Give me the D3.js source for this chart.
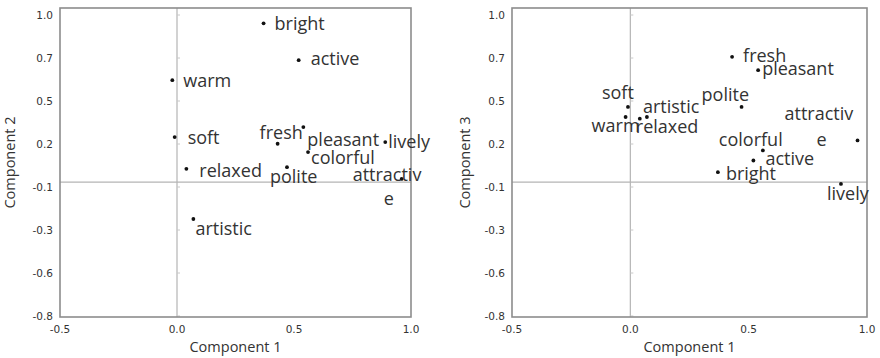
<!DOCTYPE html>
<html>
<head>
<meta charset="UTF-8">
<title></title>
<style>
  body { margin: 0; background: #fff; }
</style>
</head>
<body>
<div id="svg"></div>
<script src="https://d3js.org/d3.v7.min.js"></script>
<script>
// loadings
var words = ["bright", "active", "warm", "soft", "fresh", "pleasant", "lively", "colorful", "polite", "relaxed", "attractive", "artistic"];
var comp1 = [0.37, 0.52, -0.02, -0.01, 0.43, 0.54, 0.89, 0.56, 0.47, 0.04, 0.96, 0.07];
var comp2 = [0.95, 0.73, 0.61, 0.27, 0.23, 0.33, 0.24, 0.18, 0.09, 0.08, 0.02, -0.22];
var comp3 = [0.06, 0.13, 0.39, 0.45, 0.75, 0.67, -0.01, 0.19, 0.45, 0.38, 0.25, 0.39];

var xTickLabels = ["-0.5", "0.0", "0.5", "1.0"];
var yTickLabels = ["-0.8", "-0.6", "-0.3", "-0.1", "0.2", "0.5", "0.7", "1.0"];

// where each label sits relative to its dot (px), second pair = wrapped line
var nudge2 = {
    bright: [11, 7], active: [12, 5], warm: [11, 7], soft: [13, 7],
    fresh: [-18, -5], pleasant: [4, 19], lively: [3, 6], colorful: [3, 12],
    polite: [-17, 16], relaxed: [13, 8], attractive: [-49, 2, -18, 26], artistic: [2, 16]
};
var nudge3 = {
    bright: [8, 8], active: [12, 5], warm: [-34, 15], soft: [-26, -8],
    fresh: [11, 5], pleasant: [4, 5], lively: [-14, 16], colorful: [-44, -4],
    polite: [-40, -6], relaxed: [-4, 14], attractive: [-73, -20, -41, 6], artistic: [-4, -4]
};

var width = 880, height = 358;
var plotTop = 8, plotBottom = 317;

var svg = d3.select("#svg")
    .append("svg")
    .attr("width", width)
    .attr("height", height);

function drawPanel(left, right, yValues, yTitle, nudge, titleX) {
    var x = d3.scaleLinear().domain([-0.5, 1.0]).range([left, right]);
    var y = d3.scaleLinear().domain([-0.8, 1.0]).range([316, 15]);
    var yTicks = d3.range(yTickLabels.length).map(function(i) {
        return -0.8 + i * 1.8 / (yTickLabels.length - 1);
    });

    var g = svg.append("g");

    // zero lines
    g.append("line")
        .attr("x1", x(0)).attr("x2", x(0))
        .attr("y1", plotTop).attr("y2", plotBottom)
        .attr("stroke", "#b4b4b4").attr("stroke-width", 1.2);
    g.append("line")
        .attr("x1", left).attr("x2", right)
        .attr("y1", y(0)).attr("y2", y(0))
        .attr("stroke", "#b4b4b4").attr("stroke-width", 1.2);

    // little ticks on the vertical zero line
    g.selectAll(".vt")
        .data(yTicks)
        .join("line")
        .attr("x1", x(0)).attr("x2", x(0) + 3)
        .attr("y1", d => y(d)).attr("y2", d => y(d))
        .attr("stroke", "#c8c8c8");

    // frame
    g.append("rect")
        .attr("x", left).attr("y", plotTop)
        .attr("width", right - left).attr("height", plotBottom - plotTop)
        .attr("fill", "none")
        .attr("stroke", "#8c8c8c")
        .attr("stroke-width", 1.6);

    // y tick labels
    g.selectAll(".yl")
        .data(yTicks)
        .join("text")
        .attr("x", left - 7)
        .attr("y", d => y(d) + 3.8)
        .attr("text-anchor", "end")
        .style("font-family", "'DejaVu Sans', sans-serif")
        .style("font-size", "10.5px")
        .attr("fill", "#333")
        .text((d, i) => yTickLabels[i]);

    // x tick labels
    g.selectAll(".xl")
        .data(xTickLabels)
        .join("text")
        .attr("x", d => x(+d))
        .attr("y", 333)
        .attr("text-anchor", "middle")
        .style("font-family", "'DejaVu Sans', sans-serif")
        .style("font-size", "10.5px")
        .attr("fill", "#333")
        .text(d => d);

    // axis titles
    g.append("text")
        .attr("x", (left + right) / 2)
        .attr("y", 352)
        .attr("text-anchor", "middle")
        .style("font-family", "'Open Sans', sans-serif")
        .style("font-size", "14.5px")
        .attr("fill", "#333")
        .text("Component 1");
    g.append("text")
        .attr("transform", "translate(" + titleX + "," + ((plotTop + plotBottom) / 2) + ") rotate(-90)")
        .attr("text-anchor", "middle")
        .style("font-family", "'Open Sans', sans-serif")
        .style("font-size", "14.5px")
        .attr("fill", "#333")
        .text(yTitle);

    var pts = words.map(function(w, i) {
        return { name: w, c1: comp1[i], v: yValues[i] };
    });

    g.selectAll(".dot")
        .data(pts)
        .join("circle")
        .attr("cx", d => x(d.c1))
        .attr("cy", d => y(d.v))
        .attr("r", 1.9)
        .attr("fill", "#111");

    var labels = g.selectAll(".lab")
        .data(pts)
        .join("text")
        .style("font-family", "'Open Sans', sans-serif")
        .style("font-size", "18px")
        .attr("fill", "#333");

    labels.each(function(d) {
        var t = d3.select(this);
        var n = nudge[d.name];
        var px = x(d.c1), py = y(d.v);
        if (d.name.length > 9) {
            t.append("tspan").attr("x", px + n[0]).attr("y", py + n[1]).text(d.name.slice(0, 9));
            t.append("tspan").attr("x", px + n[2]).attr("y", py + n[3]).text(d.name.slice(9));
        } else {
            t.attr("x", px + n[0]).attr("y", py + n[1]).text(d.name);
        }
    });
}

drawPanel(60, 411, comp2, "Component 2", nudge2, 15);
drawPanel(512, 867, comp3, "Component 3", nudge3, 470);
</script>
</body>
</html>
